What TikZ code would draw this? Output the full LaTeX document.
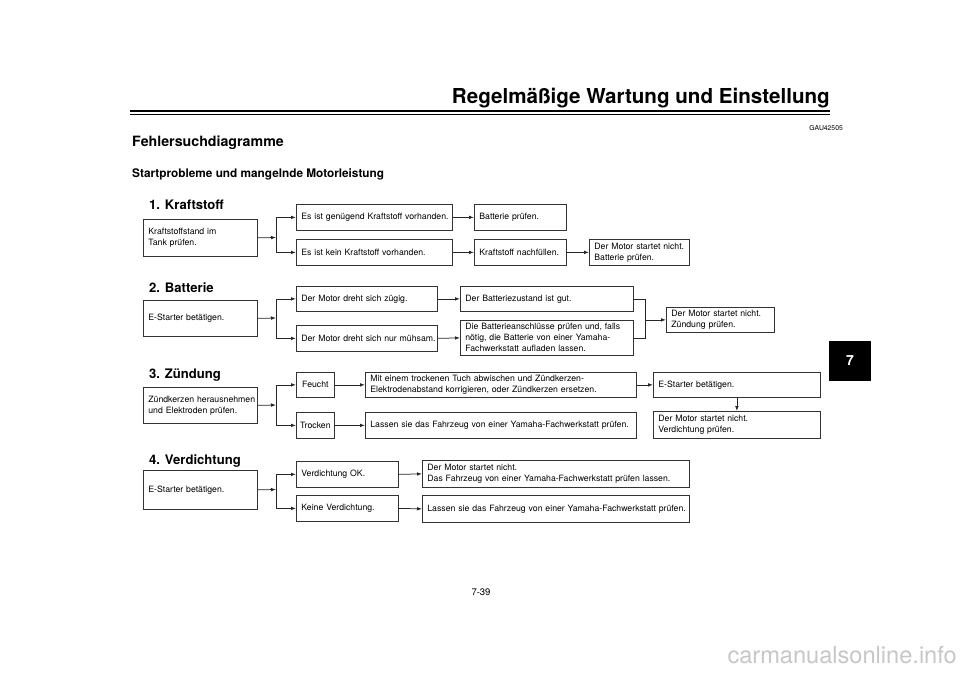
\documentclass[tikz,border=0pt]{standalone}
\usepackage{fontspec}
\setmainfont{TeX Gyre Heros}
\usetikzlibrary{arrows.meta}
\newcommand{\boxfont}{\fontsize{8.7}{11}\selectfont\hyphenpenalty=10000\exhyphenpenalty=10000\hbadness=10000\hfuzz=50pt}
\newcommand{\headfont}{\fontsize{13.1}{15}\selectfont\bfseries}
\newcommand{\kl}[1]{\mbox{#1}}
\tikzset{
  bx/.style={draw=black!80, line width=0.75pt, inner xsep=5pt, inner ysep=0pt,
    anchor=north west, align=left, font=\boxfont},
  sbx/.style={draw=black!80, line width=0.75pt, inner sep=0pt,
    anchor=north west, align=center, font=\boxfont},
  arr/.style={draw=black!85, line width=0.75pt, -{Latex[length=5pt,width=3.6pt]}},
  lnk/.style={draw=black!85, line width=0.75pt},
  head/.style={anchor=west, inner sep=0pt, font=\headfont},
}
\begin{document}
\begin{tikzpicture}[x=1pt,y=-1pt]
\fill[white] (0,0) rectangle (960,679);
\useasboundingbox (0,0) rectangle (960,679);
% header
\node[anchor=base east, inner sep=0pt, font=\fontsize{20.6}{24}\selectfont\bfseries] (title) at (830,104) {Regelmäßige Wartung und Einstellung};
\draw[line width=2.2pt] (130,111) -- (830,111);
\draw[line width=0.8pt] (130,114.6) -- (830,114.6);
\node[anchor=east, inner sep=0pt, font=\fontsize{6.8}{8}\selectfont] (gau) at (843,128) {GAU42505};
\node[anchor=west, inner sep=0pt, font=\fontsize{14.2}{16}\selectfont\bfseries] (fehl) at (132,143) {Fehlersuchdiagramme};
\node[anchor=west, inner sep=0pt, font=\fontsize{11.8}{14}\selectfont\bfseries] (start) at (132,174) {Startprobleme und mangelnde Motorleistung};
% tab
\fill[black] (829,341) rectangle (871,381);
\node[text=white, font=\fontsize{14}{16}\selectfont\bfseries] (tab) at (850,361) {7};
% page number and watermark
\node[font=\fontsize{9.5}{11}\selectfont] (page) at (481,592) {7-39};
\node[anchor=east, inner sep=0pt, text=black!22, font=\fontsize{23.6}{26}\selectfont] (wm) at (957,655) {carmanualsonline.info};

% ---------- 1. Kraftstoff
\node[head] (H1) at (149,205) {1. Kraftstoff};
\node[bx, text width=104pt, minimum height=37pt] (B1a) at (143,219) {\kl{Kraftstoffstand im}\\\kl{Tank prüfen.}};
\node[bx, text width=146pt, minimum height=26pt] (B1b) at (296,204) {\kl{Es ist genügend Kraftstoff vorhanden.}};
\node[bx, text width=146pt, minimum height=26pt] (B1c) at (296,239) {\kl{Es ist kein Kraftstoff vorhanden.}};
\node[bx, text width=82pt, minimum height=26pt] (B1d) at (474,204) {\kl{Batterie prüfen.}};
\node[bx, text width=82pt, minimum height=26pt] (B1e) at (474,239) {\kl{Kraftstoff nachfüllen.}};
\node[bx, text width=90pt, minimum height=26pt] (B1f) at (589,239) {\kl{Der Motor startet nicht.}\\\kl{Batterie prüfen.}};
\coordinate (J1) at (276,237.5);
\draw[arr] (B1a.east) -- (J1);
\draw[lnk] (J1 |- B1b.west) -- (J1 |- B1c.west);
\draw[arr] (J1 |- B1b.west) -- (B1b.west);
\draw[arr] (J1 |- B1c.west) -- (B1c.west);
\draw[arr] (B1b.east) -- (B1d.west);
\draw[arr] (B1c.east) -- (B1e.west);
\draw[arr] (B1e.east) -- (B1f.west);

% ---------- 2. Batterie
\node[head] (H2) at (149,288) {2. Batterie};
\node[bx, text width=104pt, minimum height=36pt] (B2a) at (143,300) {\kl{E-Starter betätigen.}};
\node[bx, text width=131pt, minimum height=25pt] (B2b) at (296,286) {\kl{Der Motor dreht sich zügig.}};
\node[bx, text width=131pt, minimum height=26pt] (B2c) at (296,325) {\kl{Der Motor dreht sich nur mühsam.}};
\node[bx, text width=163pt, minimum height=25pt] (B2d) at (460,286) {\kl{Der Batteriezustand ist gut.}};
\node[bx, text width=163pt, minimum height=35pt] (B2e) at (460,320) {\kl{Die Batterieanschlüsse prüfen und, falls}\\\kl{nötig, die Batterie von einer Yamaha-}\\\kl{Fachwerkstatt aufladen lassen.}};
\node[bx, text width=98pt, minimum height=25pt] (B2f) at (666,307) {\kl{Der Motor startet nicht.}\\\kl{Zündung prüfen.}};
\coordinate (J2) at (276,318);
\draw[arr] (B2a.east) -- (J2);
\draw[lnk] (J2 |- B2b.west) -- (J2 |- B2c.west);
\draw[arr] (J2 |- B2b.west) -- (B2b.west);
\draw[arr] (J2 |- B2c.west) -- (B2c.west);
\draw[arr] (B2b.east) -- (B2d.west);
\draw[arr] (B2c.east) -- (B2e.west);
\coordinate (M2) at (645,318);
\draw[lnk] (B2d.east) -- (B2d.east -| M2) -- (B2e.east -| M2) -- (B2e.east);
\draw[arr] (M2 |- B2f.west) -- (B2f.west);

% ---------- 3. Zündung
\node[head] (H3) at (149,375) {3. Zündung};
\node[bx, text width=104pt, minimum height=36pt] (B3a) at (143,387) {\kl{Zündkerzen herausnehmen}\\\kl{und Elektroden prüfen.}};
\node[sbx, minimum width=38pt, minimum height=25pt] (B3b) at (296,372) {Feucht};
\node[sbx, minimum width=38pt, minimum height=26pt] (B3c) at (296,412) {Trocken};
\node[bx, text width=261pt, minimum height=25pt] (B3d) at (365,372) {\kl{Mit einem trockenen Tuch abwischen und Zündkerzen-}\\\kl{Elektrodenabstand korrigieren, oder Zündkerzen ersetzen.}};
\node[bx, text width=261pt, minimum height=26pt] (B3e) at (365,412) {\kl{Lassen sie das Fahrzeug von einer Yamaha-Fachwerkstatt prüfen.}};
\node[bx, text width=157pt, minimum height=25pt] (B3f) at (653,372) {\kl{E-Starter betätigen.}};
\node[bx, text width=157pt, minimum height=27pt] (B3g) at (653,411) {\kl{Der Motor startet nicht.}\\\kl{Verdichtung prüfen.}};
\coordinate (J3) at (276,405);
\draw[arr] (B3a.east) -- (J3);
\draw[lnk] (J3 |- B3b.west) -- (J3 |- B3c.west);
\draw[arr] (J3 |- B3b.west) -- (B3b.west);
\draw[arr] (J3 |- B3c.west) -- (B3c.west);
\draw[arr] (B3b.east) -- (B3d.west);
\draw[arr] (B3c.east) -- (B3e.west);
\draw[arr] (B3d.east) -- (B3f.west);
\draw[arr] (B3f.south) -- (B3g.north);

% ---------- 4. Verdichtung
\node[head] (H4) at (149,461) {4. Verdichtung};
\node[bx, text width=104pt, minimum height=39pt] (B4a) at (143,470) {\kl{E-Starter betätigen.}};
\node[bx, text width=92pt, minimum height=26pt] (B4b) at (296,461) {\kl{Verdichtung OK.}};
\node[bx, text width=92pt, minimum height=26pt] (B4c) at (296,495) {\kl{Keine Verdichtung.}};
\node[bx, text width=257pt, minimum height=27pt] (B4d) at (422,460) {\kl{Der Motor startet nicht.}\\\kl{Das Fahrzeug von einer Yamaha-Fachwerkstatt prüfen lassen.}};
\node[bx, text width=257pt, minimum height=27pt] (B4e) at (422,495) {\kl{Lassen sie das Fahrzeug von einer Yamaha-Fachwerkstatt prüfen.}};
\coordinate (J4) at (276,489.5);
\draw[arr] (B4a.east) -- (J4);
\draw[lnk] (J4 |- B4b.west) -- (J4 |- B4c.west);
\draw[arr] (J4 |- B4b.west) -- (B4b.west);
\draw[arr] (J4 |- B4c.west) -- (B4c.west);
\draw[arr] (B4b.east) -- (B4d.west);
\draw[arr] (B4c.east) -- (B4e.west);
\end{tikzpicture}
\end{document}
